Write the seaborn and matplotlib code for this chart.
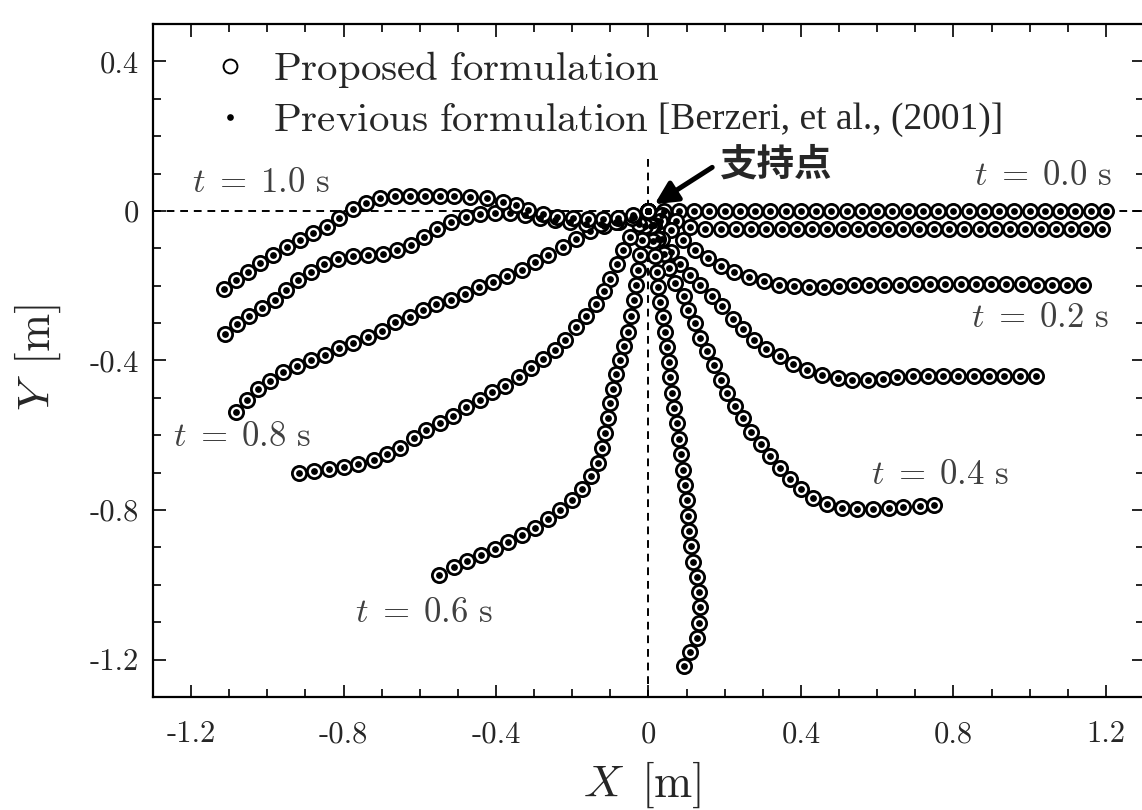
import numpy as np
import pandas as pd
import matplotlib
matplotlib.use("Agg")
import matplotlib.pyplot as plt
from matplotlib.lines import Line2D
from matplotlib.ticker import MultipleLocator, FixedLocator, FixedFormatter
import seaborn as sns

# ---------------- data ----------------
times = ["0.0", "0.1", "0.2", "0.3", "0.4", "0.5", "0.6", "0.7", "0.8", "0.9", "1.0"]

x_t00 = [0.00, 0.04, 0.08, 0.12, 0.16, 0.20, 0.24, 0.28, 0.32, 0.36, 0.40, 0.44, 0.48, 0.52, 0.56, 0.60,
         0.64, 0.68, 0.72, 0.76, 0.80, 0.84, 0.88, 0.92, 0.96, 1.00, 1.04, 1.08, 1.12, 1.16, 1.20]
y_t00 = [0.0] * 31

x_t01 = [0.000, 0.036, 0.073, 0.110, 0.149, 0.189, 0.229, 0.269, 0.309, 0.349, 0.389, 0.429, 0.469, 0.509,
         0.549, 0.589, 0.629, 0.669, 0.709, 0.749, 0.789, 0.829, 0.869, 0.909, 0.949, 0.989, 1.029, 1.069,
         1.109, 1.149, 1.189]
y_t01 = [0.000, -0.012, -0.028, -0.042, -0.047, -0.048, -0.048, -0.048, -0.048, -0.048, -0.048, -0.048,
         -0.048, -0.048, -0.048, -0.048, -0.048, -0.048, -0.048, -0.048, -0.048, -0.048, -0.048, -0.048,
         -0.048, -0.048, -0.048, -0.048, -0.048, -0.048, -0.048]

x_t02 = [0.000, 0.030, 0.060, 0.091, 0.123, 0.156, 0.189, 0.224, 0.263, 0.303, 0.342, 0.382, 0.421, 0.461,
         0.500, 0.539, 0.579, 0.619, 0.659, 0.699, 0.739, 0.779, 0.819, 0.859, 0.899, 0.939, 0.979, 1.019,
         1.059, 1.099, 1.139]
y_t02 = [0.000, -0.026, -0.052, -0.078, -0.105, -0.127, -0.148, -0.163, -0.176, -0.187, -0.197, -0.201,
         -0.203, -0.203, -0.200, -0.198, -0.197, -0.197, -0.197, -0.196, -0.196, -0.196, -0.196, -0.196,
         -0.196, -0.196, -0.196, -0.197, -0.197, -0.197, -0.197]

x_t03 = [0.000, 0.015, 0.035, 0.058, 0.083, 0.110, 0.136, 0.167, 0.193, 0.221, 0.248, 0.276, 0.309, 0.344,
         0.379, 0.417, 0.454, 0.496, 0.535, 0.575, 0.614, 0.653, 0.693, 0.733, 0.772, 0.813, 0.853, 0.893,
         0.934, 0.974, 1.016]
y_t03 = [0.000, -0.037, -0.074, -0.110, -0.142, -0.172, -0.199, -0.227, -0.255, -0.288, -0.317, -0.345,
         -0.369, -0.389, -0.409, -0.425, -0.440, -0.447, -0.451, -0.452, -0.449, -0.445, -0.442, -0.441,
         -0.441, -0.441, -0.441, -0.442, -0.442, -0.442, -0.442]

x_t04 = [0.000, 0.012, 0.026, 0.040, 0.055, 0.070, 0.092, 0.103, 0.121, 0.136, 0.154, 0.173, 0.190, 0.206,
         0.226, 0.247, 0.270, 0.294, 0.318, 0.345, 0.371, 0.399, 0.432, 0.469, 0.507, 0.546, 0.588, 0.630,
         0.669, 0.711, 0.750]
y_t04 = [0.000, -0.038, -0.076, -0.115, -0.153, -0.192, -0.228, -0.264, -0.300, -0.339, -0.375, -0.413,
         -0.451, -0.488, -0.521, -0.554, -0.590, -0.624, -0.655, -0.688, -0.718, -0.744, -0.767, -0.783,
         -0.794, -0.798, -0.797, -0.795, -0.792, -0.789, -0.786]

x_t05 = [0.000, 0.006, 0.012, 0.017, 0.022, 0.026, 0.031, 0.037, 0.043, 0.048, 0.053, 0.057, 0.062, 0.068,
         0.074, 0.079, 0.084, 0.090, 0.096, 0.100, 0.104, 0.107, 0.111, 0.117, 0.126, 0.133, 0.136, 0.133,
         0.127, 0.110, 0.092]
y_t05 = [0.000, -0.040, -0.080, -0.120, -0.162, -0.203, -0.243, -0.284, -0.324, -0.364, -0.405, -0.445,
         -0.486, -0.527, -0.568, -0.609, -0.650, -0.692, -0.733, -0.774, -0.815, -0.855, -0.897, -0.938,
         -0.979, -1.020, -1.060, -1.101, -1.141, -1.180, -1.216]

x_t06 = [0.000, -0.008, -0.016, -0.022, -0.027, -0.032, -0.037, -0.045, -0.053, -0.064, -0.075, -0.085,
         -0.093, -0.100, -0.106, -0.113, -0.121, -0.133, -0.151, -0.174, -0.202, -0.232, -0.263, -0.297,
         -0.332, -0.368, -0.403, -0.439, -0.476, -0.511, -0.550]
y_t06 = [0.000, -0.039, -0.079, -0.118, -0.158, -0.198, -0.239, -0.281, -0.324, -0.361, -0.399, -0.437,
         -0.476, -0.515, -0.555, -0.595, -0.635, -0.674, -0.710, -0.743, -0.773, -0.801, -0.825, -0.848,
         -0.867, -0.885, -0.903, -0.919, -0.937, -0.953, -0.973]

x_t07 = [0.000, -0.024, -0.048, -0.066, -0.083, -0.101, -0.118, -0.138, -0.165, -0.190, -0.218, -0.246,
         -0.276, -0.309, -0.341, -0.376, -0.410, -0.443, -0.478, -0.513, -0.548, -0.583, -0.616, -0.651,
         -0.686, -0.721, -0.761, -0.798, -0.838, -0.877, -0.917]
y_t07 = [0.000, -0.035, -0.069, -0.105, -0.143, -0.181, -0.214, -0.250, -0.282, -0.311, -0.345, -0.372,
         -0.396, -0.421, -0.443, -0.467, -0.483, -0.506, -0.525, -0.548, -0.568, -0.586, -0.607, -0.633,
         -0.650, -0.666, -0.677, -0.684, -0.689, -0.695, -0.700]

x_t08 = [0.000, -0.038, -0.077, -0.116, -0.154, -0.190, -0.225, -0.263, -0.298, -0.333, -0.370, -0.408,
         -0.445, -0.482, -0.519, -0.557, -0.592, -0.627, -0.664, -0.700, -0.737, -0.774, -0.811, -0.848,
         -0.886, -0.923, -0.958, -0.993, -1.024, -1.053, -1.081]
y_t08 = [0.000, -0.016, -0.030, -0.040, -0.053, -0.074, -0.096, -0.118, -0.136, -0.157, -0.175, -0.190,
         -0.203, -0.221, -0.237, -0.250, -0.266, -0.283, -0.298, -0.321, -0.337, -0.352, -0.367, -0.384,
         -0.400, -0.415, -0.431, -0.454, -0.476, -0.506, -0.537]

x_t09 = [0.000, -0.042, -0.084, -0.124, -0.165, -0.205, -0.245, -0.285, -0.325, -0.364, -0.403, -0.443,
         -0.480, -0.518, -0.554, -0.589, -0.623, -0.660, -0.697, -0.737, -0.776, -0.814, -0.851, -0.886,
         -0.919, -0.952, -0.981, -1.013, -1.047, -1.080, -1.112]
y_t09 = [0.000, -0.018, -0.030, -0.034, -0.034, -0.030, -0.024, -0.018, -0.011, -0.006, -0.005, -0.008,
         -0.015, -0.029, -0.049, -0.069, -0.091, -0.105, -0.114, -0.118, -0.121, -0.128, -0.143, -0.164,
         -0.186, -0.212, -0.238, -0.260, -0.280, -0.302, -0.328]

x_t10 = [0.000, -0.040, -0.080, -0.120, -0.159, -0.199, -0.239, -0.278, -0.316, -0.347, -0.383, -0.423,
         -0.469, -0.509, -0.547, -0.586, -0.626, -0.665, -0.704, -0.741, -0.776, -0.812, -0.844, -0.879,
         -0.914, -0.949, -0.984, -1.018, -1.051, -1.083, -1.114]
y_t10 = [0.000, -0.010, -0.018, -0.022, -0.022, -0.020, -0.015, -0.008, 0.003, 0.016, 0.025, 0.034,
         0.038, 0.040, 0.040, 0.040, 0.040, 0.040, 0.034, 0.022, 0.005, -0.020, -0.042, -0.060, -0.079,
         -0.097, -0.118, -0.140, -0.163, -0.185, -0.208]

xs = [x_t00, x_t01, x_t02, x_t03, x_t04, x_t05, x_t06, x_t07, x_t08, x_t09, x_t10]
ys = [y_t00, y_t01, y_t02, y_t03, y_t04, y_t05, y_t06, y_t07, y_t08, y_t09, y_t10]

x_ticks = [-1.2, -0.8, -0.4, 0.0, 0.4, 0.8, 1.2]
x_tick_labels = ["-1.2", "-0.8", "-0.4", "0", "0.4", "0.8", "1.2"]
y_ticks = [-1.2, -0.8, -0.4, 0.0, 0.4]
y_tick_labels = ["-1.2", "-0.8", "-0.4", "0", "0.4"]

time_labels = ["0.0", "0.2", "0.4", "0.6", "0.8", "1.0"]
label_x = [1.216, 0.847, 0.584, -0.771, -1.247, -1.197]
label_y = [0.094, -0.287, -0.706, -1.077, -0.604, 0.075]
label_ha = ["right", "left", "left", "left", "left", "left"]

legend_labels = [r"$\mathrm{Proposed\ formulation}$", r"$\mathrm{Previous\ formulation}$"]
citation = "[Berzeri, et al., (2001)]"

# ---------------- build table ----------------
frames = []
for t, xv, yv in zip(times, xs, ys):
    frames.append(pd.DataFrame({"t": t, "x": xv, "y": yv}))
df = pd.concat(frames, ignore_index=True)

# ---------------- style ----------------
sns.set_theme(style="ticks")
plt.rcParams["font.family"] = ["cmr10", "DejaVu Serif"]
plt.rcParams["mathtext.fontset"] = "cm"
plt.rcParams["axes.formatter.use_mathtext"] = True
plt.rcParams["axes.unicode_minus"] = False

fig = plt.figure(figsize=(11.42, 8.10), dpi=100)
ax = fig.add_axes([153 / 1142, (810 - 697) / 810, (1144 - 153) / 1142, (697 - 24) / 810])

ax.set_xlim(-1.3, 1.3)
ax.set_ylim(-1.3, 0.5)

# reference dashed lines
ax.axhline(0.0, color="black", lw=1.4, ls=(0, (4, 3)), zorder=1)
ax.plot([0.0, 0.0], [0.14, -1.3], color="black", lw=1.4, ls=(0, (4, 3)), zorder=1)

# proposed (open circles) then previous (dots)
sns.scatterplot(data=df, x="x", y="y", marker="o", s=105, color="white",
                edgecolor="black", linewidth=2.0, ax=ax, zorder=3, legend=False)
sns.scatterplot(data=df, x="x", y="y", marker="o", s=24, color="black",
                linewidth=0, ax=ax, zorder=4, legend=False)

# ticks
ax.xaxis.set_major_locator(FixedLocator(x_ticks))
ax.xaxis.set_major_formatter(FixedFormatter(x_tick_labels))
ax.yaxis.set_major_locator(FixedLocator(y_ticks))
ax.yaxis.set_major_formatter(FixedFormatter(y_tick_labels))
ax.xaxis.set_minor_locator(MultipleLocator(0.1))
ax.yaxis.set_minor_locator(MultipleLocator(0.1))
ax.tick_params(which="both", direction="in", top=True, right=True, width=1.2, color="black")
ax.tick_params(which="major", length=9)
ax.tick_params(which="minor", length=6)
ax.tick_params(axis="x", which="major", labelsize=22, pad=17)
ax.tick_params(axis="y", which="major", labelsize=22, pad=10)
for sp in ax.spines.values():
    sp.set_linewidth(1.6)
    sp.set_color("black")

# axis labels
ax.set_xlabel(r"$X\ \,[\mathrm{m}]$", fontsize=33)
ax.set_ylabel(r"$Y\ \,[\mathrm{m}]$", fontsize=33)
ax.xaxis.set_label_coords((642 - 153) / 991, (697 - 785) / 673)
ax.xaxis.label.set_va("center")
ax.yaxis.set_label_coords((38 - 153) / 991, (697 - 358) / 673)
ax.yaxis.label.set_va("center")

# time labels
for tl, lx, ly, ha in zip(time_labels, label_x, label_y, label_ha):
    ax.text(lx, ly, r"$t\;=\;%s\ \mathrm{s}$" % tl, fontsize=25, color="#404040",
            ha=ha, va="center", zorder=5)

# pivot annotation
ax.annotate("支持点", xy=(0.016, 0.018), xytext=(0.188, 0.125),
            fontsize=27, fontweight="bold", family=["Noto Sans CJK JP", "DejaVu Sans"],
            ha="left", va="center", zorder=6,
            arrowprops=dict(arrowstyle="-|>", lw=3.6, color="black", mutation_scale=34,
                            shrinkA=4, shrinkB=0, relpos=(0.0, 0.55)))

# legend
handles = [Line2D([], [], ls="none", marker="o", markersize=10, markerfacecolor="white",
                  markeredgecolor="black", markeredgewidth=1.4),
           Line2D([], [], ls="none", marker="o", markersize=4.8, markerfacecolor="black",
                  markeredgewidth=0)]
ax.legend(handles, legend_labels, loc="upper left",
          bbox_to_anchor=((212 - 153) / 991, (697 - 49) / 673),
          frameon=False, fontsize=29.5, handlelength=0.9, handletextpad=0.58, labelspacing=0.3,
          borderpad=0, borderaxespad=0)
ax.text((658 - 153) / 991, (697 - 120) / 673, citation, transform=ax.transAxes,
        fontsize=27, family=["Liberation Serif", "DejaVu Serif"], ha="left", va="center", zorder=6)

fig.savefig("out.png", dpi=100)
